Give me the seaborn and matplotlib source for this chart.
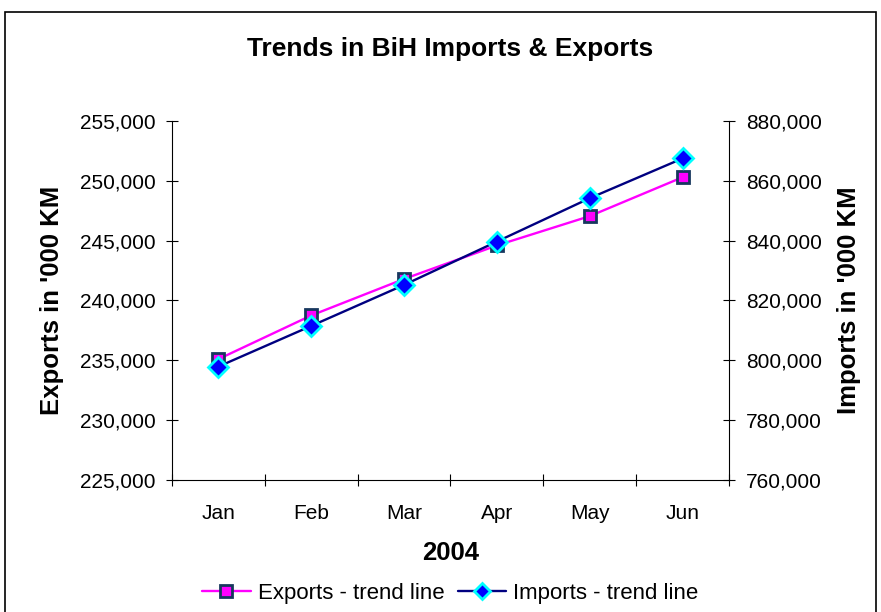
import numpy as np
import pandas as pd
import seaborn as sns
import matplotlib.pyplot as plt
from matplotlib.patches import Rectangle
from matplotlib.ticker import FuncFormatter, FixedLocator
from matplotlib.lines import Line2D

months = ['Jan', 'Feb', 'Mar', 'Apr', 'May', 'Jun']
exports = [235100, 238750, 241800, 244600, 247050, 250300]
imports = [797900, 811500, 825200, 839700, 854200, 867500]

df = pd.DataFrame({'pos': np.arange(len(months)), 'month': months,
                   'exports': exports, 'imports': imports})

sns.set_style('white')
plt.rcParams['font.family'] = ['Liberation Sans', 'DejaVu Sans']
plt.rcParams.update({'text.color': 'black', 'axes.labelcolor': 'black',
                     'xtick.color': 'black', 'ytick.color': 'black'})

fig = plt.figure(figsize=(8.81, 6.12), dpi=100)
ax = fig.add_axes([0.1952, 0.2157, 0.6323, 0.5866])
ax2 = ax.twinx()

exp_style = dict(color='#FF00FF', linewidth=1.7, marker='s',
                 markerfacecolor='#FF00FF', markeredgecolor='#17375E',
                 markeredgewidth=2)
imp_style = dict(color='#000080', linewidth=1.7, marker='D',
                 markerfacecolor='#0000FF', markeredgecolor='#00FFFF',
                 markeredgewidth=2)

sns.lineplot(data=df, x='pos', y='exports', ax=ax, markersize=9, **exp_style)
sns.lineplot(data=df, x='pos', y='imports', ax=ax2, markersize=10, **imp_style)

fmt = FuncFormatter(lambda v, p: f'{int(v):,}')
ax.set_ylim(225000, 255000)
ax.set_yticks(np.arange(225000, 255001, 5000))
ax.yaxis.set_major_formatter(fmt)
ax2.set_ylim(760000, 880000)
ax2.set_yticks(np.arange(760000, 880001, 20000))
ax2.yaxis.set_major_formatter(fmt)

ax.set_xlim(-0.5, len(months) - 0.5)
ax.set_xticks(df['pos'])
ax.set_xticklabels(months)
ax.xaxis.set_minor_locator(FixedLocator(np.arange(-0.5, len(months), 1.0)))

for a in (ax, ax2):
    for s in a.spines.values():
        s.set_visible(False)
    a.tick_params(axis='y', direction='inout', length=9, width=0.8,
                  labelsize=15, colors='black', pad=7.5)
ax.spines['left'].set_visible(True)
ax.spines['bottom'].set_visible(True)
ax2.spines['right'].set_visible(True)
for s in (ax.spines['left'], ax.spines['bottom'], ax2.spines['right']):
    s.set_color('black')
    s.set_linewidth(0.8)

ax.tick_params(axis='x', which='major', bottom=True, length=0, labelsize=15,
               pad=17.5, colors='black')
ax.tick_params(axis='x', which='minor', bottom=True, direction='inout',
               length=9, width=0.8, colors='black')

ax.set_xlabel('2004', fontsize=18.5, fontweight='bold', labelpad=13)
ax.set_ylabel("Exports in '000 KM", fontsize=18.5, fontweight='bold', labelpad=11)
ax2.set_ylabel("Imports in '000 KM", fontsize=18.5, fontweight='bold', labelpad=11)
ax.set_title('Trends in BiH Imports & Exports', fontsize=19,
             fontweight='bold', pad=47)

handles = [Line2D([], [], markersize=8, **exp_style),
           Line2D([], [], markersize=8, **imp_style)]
fig.legend(handles, ['Exports - trend line', 'Imports - trend line'],
           loc='center', bbox_to_anchor=(0.511, 0.031), ncol=2, frameon=False,
           fontsize=16, handlelength=2.2, handletextpad=0.3,
           columnspacing=0.6)

fig.patches.append(Rectangle((5 / 881, -0.01), 871 / 881, 1 - 12 / 612 + 0.01,
                             transform=fig.transFigure, fill=False,
                             edgecolor='black', linewidth=1.2))

fig.savefig('out.png', dpi=100)
